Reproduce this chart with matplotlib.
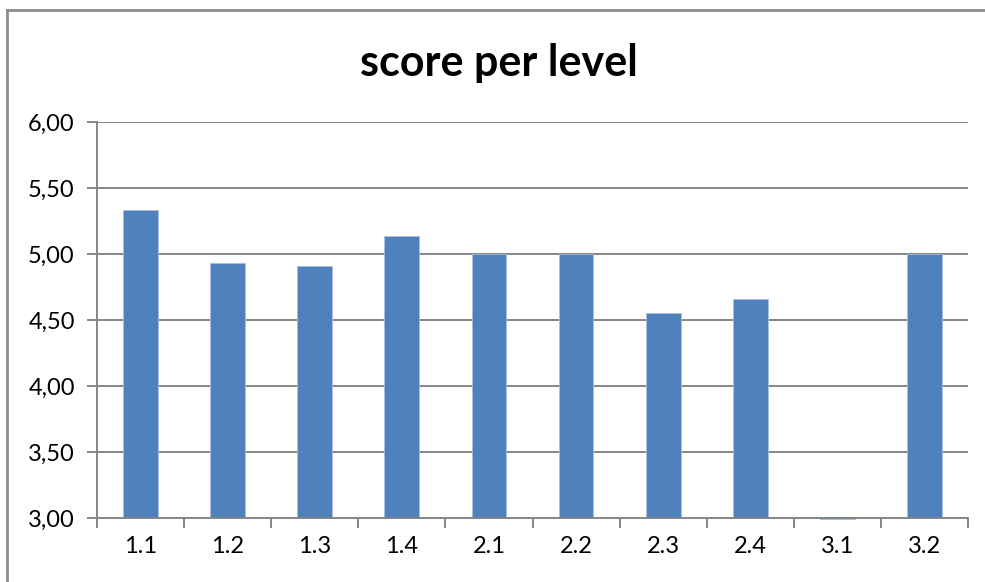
import matplotlib
matplotlib.use("Agg")
import matplotlib.pyplot as plt
from matplotlib.lines import Line2D
from matplotlib.ticker import FuncFormatter, MultipleLocator
import numpy as np

# data
levels = ["1.1", "1.2", "1.3", "1.4", "2.1", "2.2", "2.3", "2.4", "3.1", "3.2"]
scores = [5.33, 4.93, 4.91, 5.14, 5.00, 5.00, 4.55, 4.66, 2.99, 5.00]
title = "score per level"

plt.rcParams['font.family'] = ['Lato', 'DejaVu Sans']

W, H = 985, 582
fig = plt.figure(figsize=(W / 100, H / 100), dpi=100)

# outer chart frame: only top and left edges are visible in the original
frame = dict(color="#8c8c8c", linewidth=2, transform=fig.transFigure)
fig.add_artist(Line2D([7 / W, 1.0], [1 - 10 / H, 1 - 10 / H], **frame))
fig.add_artist(Line2D([7 / W, 7 / W], [0.0, 1 - 10 / H], **frame))

# plot area
ax = fig.add_axes([97 / W, 1 - 518 / H, (968 - 97) / W, (518 - 122) / H])

ymin = 3.0
x = np.arange(len(levels))
ax.bar(x, np.array(scores) - ymin, bottom=ymin, width=0.4,
       color="#4f81bd", edgecolor="#a7bfde", linewidth=0.6,
       zorder=3, clip_on=False)

ax.set_xlim(-0.5, len(levels) - 0.5)
ax.set_ylim(ymin, 6.0)
ax.yaxis.set_major_locator(MultipleLocator(0.5))
ax.yaxis.set_major_formatter(FuncFormatter(lambda v, p: f"{v:.2f}".replace(".", ",")))
ax.grid(axis="y", color="#868686", linewidth=1.4, zorder=0)

# ticks between categories, labels centred under bars
ax.set_xticks(np.arange(-0.5, len(levels), 1.0))
ax.set_xticklabels([])
ax.set_xticks(x, minor=True)
ax.set_xticklabels(levels, minor=True)
ax.tick_params(axis="x", which="major", length=7, width=1.4, color="#868686", direction="out")
ax.tick_params(axis="x", which="minor", length=0, pad=13, labelsize=17)
ax.tick_params(axis="y", length=7, width=1.4, color="#868686", pad=9, labelsize=17)

for side in ["top", "right"]:
    ax.spines[side].set_visible(False)
for side in ["left", "bottom"]:
    ax.spines[side].set_color("#868686")
    ax.spines[side].set_linewidth(1.4)
    ax.spines[side].set_zorder(4)

fig.text(0.507, 1 - 63 / H, title, ha="center", va="center",
         fontsize=31, fontweight="bold")

fig.savefig("out.png", dpi=100, facecolor="white")
